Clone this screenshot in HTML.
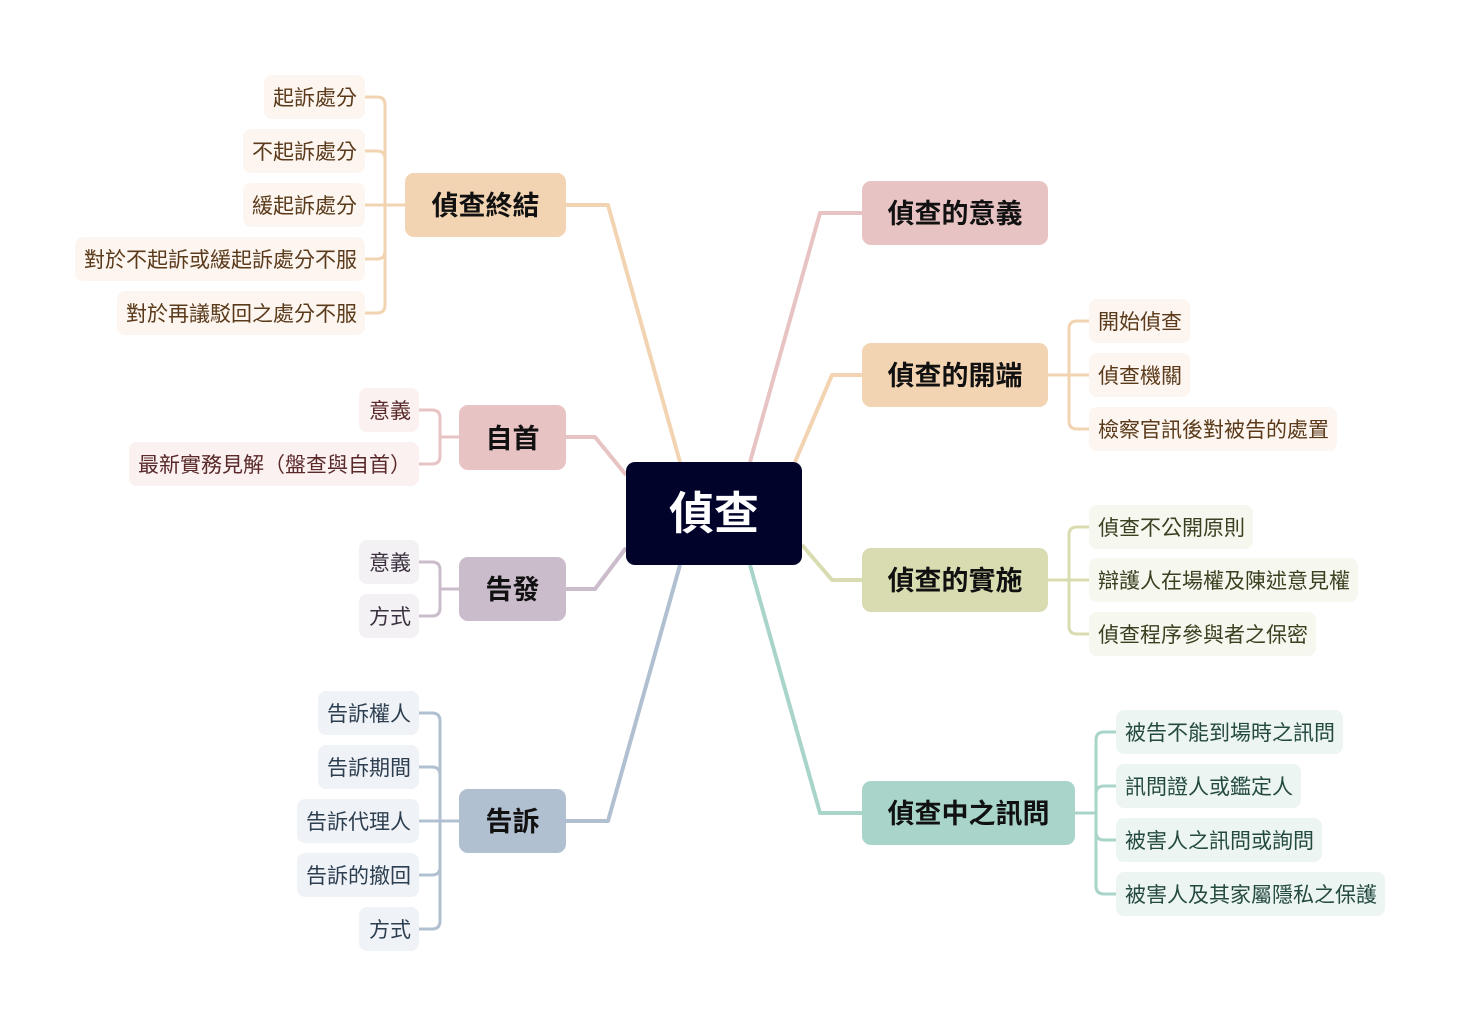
<!DOCTYPE html>
<html><head><meta charset="utf-8"><style>
html,body{margin:0;padding:0;background:#fff;}
svg{display:block;font-family:"Liberation Sans","Noto Sans CJK TC",sans-serif;}
.m{font-size:27px;font-weight:bold;fill:#111;}
.l{font-size:21px;}
</style></head><body>
<svg width="1461" height="1027" viewBox="0 0 1461 1027" xmlns="http://www.w3.org/2000/svg">
<g fill="none" stroke-width="4" stroke-linejoin="round">
<path d="M566,205 H608 L680,462" stroke="#f2d4b2"/>
<path d="M566,437 H595 L626,475" stroke="#e8c3c3"/>
<path d="M566,589 H595 L626,548" stroke="#cbbccb"/>
<path d="M566,821 H608 L680,565" stroke="#b1c0d1"/>
<path d="M862,213 H820 L750,462" stroke="#e8c3c3"/>
<path d="M862,375 H832 L795,462" stroke="#f2d4b2"/>
<path d="M862,580 H832 L802,545" stroke="#d9dcb0"/>
<path d="M862,813 H820 L750,565" stroke="#a8d4c9"/>
</g>
<g fill="none" stroke-width="3">
<g stroke="#f2d4b2">
<path d="M405,205 H365"/>
<path d="M385,205 V105 Q385,97 377,97 H365"/>
<path d="M385,205 V159 Q385,151 377,151 H365"/>
<path d="M385,205 V251 Q385,259 377,259 H365"/>
<path d="M385,205 V305 Q385,313 377,313 H365"/>
</g>
<g stroke="#e8c3c3">
<path d="M459,437 H440"/>
<path d="M440,437 V418 Q440,410 432,410 H419"/>
<path d="M440,437 V456 Q440,464 432,464 H419"/>
</g>
<g stroke="#cbbccb">
<path d="M459,589 H440"/>
<path d="M440,589 V570 Q440,562 432,562 H419"/>
<path d="M440,589 V608 Q440,616 432,616 H419"/>
</g>
<g stroke="#b1c0d1">
<path d="M459,821 H419"/>
<path d="M440,821 V721 Q440,713 432,713 H419"/>
<path d="M440,821 V775 Q440,767 432,767 H419"/>
<path d="M440,821 V867 Q440,875 432,875 H419"/>
<path d="M440,821 V921 Q440,929 432,929 H419"/>
</g>
<g stroke="#f2d4b2">
<path d="M1048,375 H1089"/>
<path d="M1069,375 V329 Q1069,321 1077,321 H1089"/>
<path d="M1069,375 V421 Q1069,429 1077,429 H1089"/>
</g>
<g stroke="#d9dcb0">
<path d="M1048,580 H1089"/>
<path d="M1069,580 V535 Q1069,527 1077,527 H1089"/>
<path d="M1069,580 V626 Q1069,634 1077,634 H1089"/>
</g>
<g stroke="#a8d4c9">
<path d="M1075,813 H1096"/>
<path d="M1096,813 V740 Q1096,732 1104,732 H1116"/>
<path d="M1096,813 V794 Q1096,786 1104,786 H1116"/>
<path d="M1096,813 V832 Q1096,840 1104,840 H1116"/>
<path d="M1096,813 V886 Q1096,894 1104,894 H1116"/>
</g>
</g>

<rect x="626" y="462" width="176" height="103" rx="9" fill="#01032a"/>
<text x="714" y="529" text-anchor="middle" font-size="45" font-weight="bold" fill="#fff">偵查</text>

<rect x="405" y="173" width="161" height="64" rx="9" fill="#f2d4b2"/>
<text class="m" x="485.5" y="215" text-anchor="middle">偵查終結</text>
<rect x="459" y="405" width="107" height="65" rx="9" fill="#e8c3c3"/>
<text class="m" x="512.5" y="448" text-anchor="middle">自首</text>
<rect x="459" y="557" width="107" height="64" rx="9" fill="#cbbccb"/>
<text class="m" x="512.5" y="599" text-anchor="middle">告發</text>
<rect x="459" y="789" width="107" height="64" rx="9" fill="#b1c0d1"/>
<text class="m" x="512.5" y="831" text-anchor="middle">告訴</text>
<rect x="862" y="181" width="186" height="64" rx="9" fill="#e8c3c3"/>
<text class="m" x="955" y="223" text-anchor="middle">偵查的意義</text>
<rect x="862" y="343" width="186" height="64" rx="9" fill="#f2d4b2"/>
<text class="m" x="955" y="385" text-anchor="middle">偵查的開端</text>
<rect x="862" y="548" width="186" height="64" rx="9" fill="#d9dcb0"/>
<text class="m" x="955" y="590" text-anchor="middle">偵查的實施</text>
<rect x="862" y="781" width="213" height="64" rx="9" fill="#a8d4c9"/>
<text class="m" x="968.5" y="823" text-anchor="middle">偵查中之訊問</text>

<g class="l" text-anchor="end">
<g fill="#fdf5ef">
<rect x="264" y="75" width="101" height="44" rx="8"/>
<rect x="243" y="129" width="122" height="44" rx="8"/>
<rect x="243" y="183" width="122" height="44" rx="8"/>
<rect x="75" y="237" width="290" height="44" rx="8"/>
<rect x="117" y="291" width="248" height="44" rx="8"/>
</g>
<g fill="#5a3a1a">
<text x="357" y="105">起訴處分</text>
<text x="357" y="159">不起訴處分</text>
<text x="357" y="213">緩起訴處分</text>
<text x="357" y="267">對於不起訴或緩起訴處分不服</text>
<text x="357" y="321">對於再議駁回之處分不服</text>
</g>
<g fill="#fbf1f1">
<rect x="359" y="388" width="60" height="44" rx="8"/>
<rect x="129" y="442" width="290" height="44" rx="8"/>
</g>
<g fill="#5a2a2a">
<text x="411" y="418">意義</text>
<text x="411" y="472">最新實務見解（盤查與自首）</text>
</g>
<g fill="#f4f1f4">
<rect x="359" y="540" width="60" height="44" rx="8"/>
<rect x="359" y="594" width="60" height="44" rx="8"/>
</g>
<g fill="#3a3040">
<text x="411" y="570">意義</text>
<text x="411" y="624">方式</text>
</g>
<g fill="#eff2f6">
<rect x="318" y="691" width="101" height="44" rx="8"/>
<rect x="318" y="745" width="101" height="44" rx="8"/>
<rect x="297" y="799" width="122" height="44" rx="8"/>
<rect x="297" y="853" width="122" height="44" rx="8"/>
<rect x="359" y="907" width="60" height="44" rx="8"/>
</g>
<g fill="#2c3e50">
<text x="411" y="721">告訴權人</text>
<text x="411" y="775">告訴期間</text>
<text x="411" y="829">告訴代理人</text>
<text x="411" y="883">告訴的撤回</text>
<text x="411" y="937">方式</text>
</g>
</g>

<g class="l" text-anchor="start">
<g fill="#fdf5ef">
<rect x="1089" y="299" width="101" height="44" rx="8"/>
<rect x="1089" y="353" width="101" height="44" rx="8"/>
<rect x="1089" y="407" width="248" height="44" rx="8"/>
</g>
<g fill="#5a3a1a">
<text x="1098" y="329">開始偵查</text>
<text x="1098" y="383">偵查機關</text>
<text x="1098" y="437">檢察官訊後對被告的處置</text>
</g>
<g fill="#f6f7ee">
<rect x="1089" y="505" width="164" height="44" rx="8"/>
<rect x="1089" y="558" width="269" height="44" rx="8"/>
<rect x="1089" y="612" width="227" height="44" rx="8"/>
</g>
<g fill="#3a4020">
<text x="1098" y="535">偵查不公開原則</text>
<text x="1098" y="588">辯護人在場權及陳述意見權</text>
<text x="1098" y="642">偵查程序參與者之保密</text>
</g>
<g fill="#ecf5f2">
<rect x="1116" y="710" width="227" height="44" rx="8"/>
<rect x="1116" y="764" width="185" height="44" rx="8"/>
<rect x="1116" y="818" width="206" height="44" rx="8"/>
<rect x="1116" y="872" width="269" height="44" rx="8"/>
</g>
<g fill="#244a40">
<text x="1125" y="740">被告不能到場時之訊問</text>
<text x="1125" y="794">訊問證人或鑑定人</text>
<text x="1125" y="848">被害人之訊問或詢問</text>
<text x="1125" y="902">被害人及其家屬隱私之保護</text>
</g>
</g>
</svg>
</body></html>
